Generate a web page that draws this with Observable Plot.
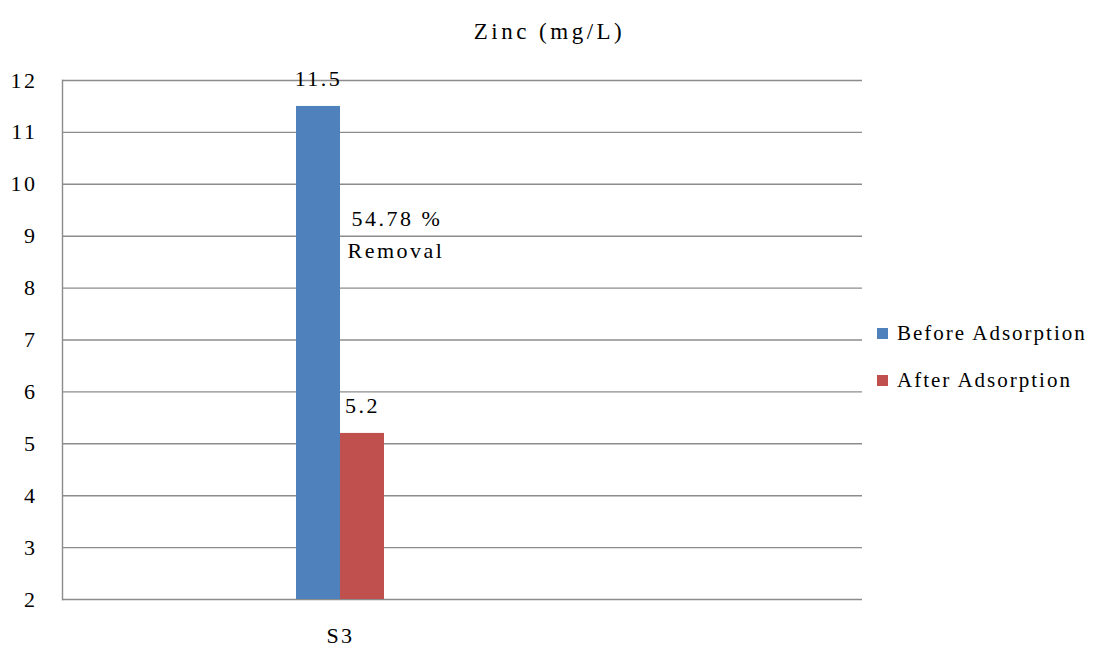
<!DOCTYPE html>
<html>
<head>
<meta charset="utf-8">
<script src="https://cdn.jsdelivr.net/npm/d3@7"></script>
<script src="https://cdn.jsdelivr.net/npm/@observablehq/plot@0.6"></script>
<style>
  html, body { margin: 0; padding: 0; background: #fff; }
  #chart { position: relative; width: 1099px; height: 648px; font-family: "Liberation Serif", Tinos, "Times New Roman", serif; color: #000; }
  #chart svg { font-family: "Liberation Serif", Tinos, "Times New Roman", serif !important; }
  #chart svg text { letter-spacing: 2.5px; }
  .title { position: absolute; left: 0; width: 1099px; top: 16px; text-align: center; font-size: 23px; letter-spacing: 3.5px; line-height: 32px; }
  .legend { position: absolute; left: 877px; top: 317px; font-size: 21px; letter-spacing: 2px; }
  .legend .item { display: flex; align-items: center; height: 32px; margin-bottom: 15px; }
  .legend .sw { width: 11px; height: 11px; margin-right: 9px; flex: none; }
</style>
</head>
<body>
<div id="chart"></div>
<script>
// Zinc concentration for sample S3, before and after adsorption
const categories = ["S3"];
const series = ["Before Adsorption", "After Adsorption"];
const colors = ["#4F81BD", "#C0504D"];
const beforeValues = [11.5];
const afterValues = [5.2];
const yTicks = [2, 3, 4, 5, 6, 7, 8, 9, 10, 11, 12];

const rows = categories.flatMap((c, i) => [
  {category: c, series: series[0], value: beforeValues[i]},
  {category: c, series: series[1], value: afterValues[i]}
]);
const removal = categories.map((c, i) => ({
  category: c,
  mid: (beforeValues[i] + afterValues[i]) / 2,
  pct: ((beforeValues[i] - afterValues[i]) / beforeValues[i] * 100).toFixed(2) + " %"
}));

// the category band holds the two bars side by side
const bandLeft = 296, bandRight = 384;
const half = (bandRight - bandLeft) / 2;
const color = d3.scaleOrdinal(series, colors);
const serifStack = "'Liberation Serif', Tinos, 'Times New Roman', serif";

const plot = Plot.plot({
  width: 1099,
  height: 648,
  marginLeft: 62,
  marginRight: 237,
  marginTop: 80,
  marginBottom: 49,
  style: {fontFamily: serifStack, fontSize: "22px", color: "#000"},
  x: {type: "band", domain: categories, range: [bandLeft, bandRight], padding: 0, label: null},
  y: {domain: [yTicks[0], yTicks[yTicks.length - 1]], label: null},
  marks: [
    Plot.ruleY(yTicks, {stroke: "#8c8c8c", strokeWidth: 1.4}),
    Plot.frame({anchor: "left", stroke: "#8c8c8c", strokeWidth: 1.4}),
    Plot.barY(rows.filter(d => d.series === series[0]), {
      x: "category", y1: yTicks[0], y2: "value", fill: d => color(d.series), insetRight: half
    }),
    Plot.barY(rows.filter(d => d.series === series[1]), {
      x: "category", y1: yTicks[0], y2: "value", fill: d => color(d.series), insetLeft: half
    }),
    Plot.text(rows.filter(d => d.series === series[0]), {
      x: "category", y: "value", text: d => String(d.value), dx: -half / 2, dy: -27, fill: "#000"
    }),
    Plot.text(rows.filter(d => d.series === series[1]), {
      x: "category", y: "value", text: d => String(d.value), dx: half / 2, dy: -27, fill: "#000"
    }),
    Plot.text(removal, {x: "category", y: "mid", text: "pct", textAnchor: "start", dx: 11, dy: -51, fill: "#000"}),
    Plot.text(removal, {x: "category", y: "mid", text: () => "Removal", textAnchor: "start", dx: 7, dy: -19, fill: "#000"}),
    Plot.axisY(yTicks, {tickSize: 0, tickPadding: 25, tickFormat: d => String(d), label: null}),
    Plot.axisX({tickSize: 0, tickPadding: 28, label: null})
  ]
});

const root = document.getElementById("chart");
root.appendChild(plot);

const title = document.createElement("div");
title.className = "title";
title.textContent = "Zinc (mg/L)";
root.appendChild(title);

const legend = document.createElement("div");
legend.className = "legend";
series.forEach((s, i) => {
  const item = document.createElement("div");
  item.className = "item";
  const sw = document.createElement("span");
  sw.className = "sw";
  sw.style.background = colors[i];
  const label = document.createElement("span");
  label.textContent = s;
  item.appendChild(sw);
  item.appendChild(label);
  legend.appendChild(item);
});
root.appendChild(legend);
</script>
</body>
</html>
